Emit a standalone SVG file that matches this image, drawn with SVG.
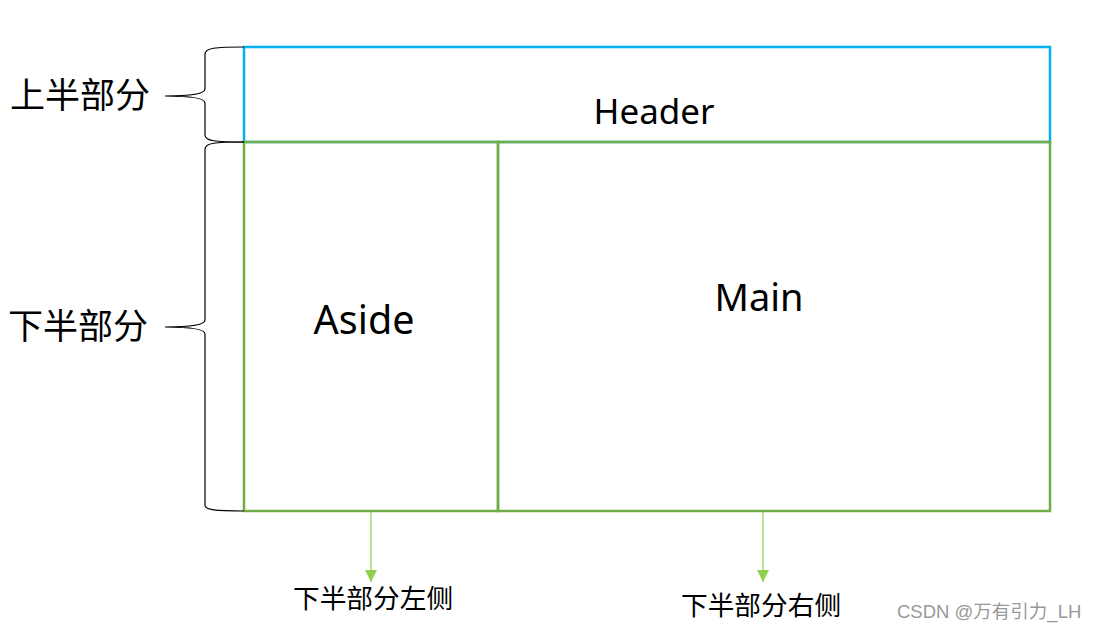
<svg xmlns="http://www.w3.org/2000/svg" width="1096" height="631" viewBox="0 0 1096 631">
<style>
.brace{fill:none;stroke:#000;stroke-width:1.2}
.lbl{font-family:"Noto Sans CJK SC","Noto Sans",sans-serif;fill:#000}
.en{font-family:"Noto Sans","Open Sans",sans-serif;fill:#000}
.conn{stroke:#92D050;stroke-width:1.2;fill:none}
.g{fill:none;stroke:#70AD47;stroke-width:2.5}
</style>
<defs>
<marker id="ah" viewBox="0 0 10 10" refX="10" refY="5" markerWidth="12" markerHeight="12" markerUnits="userSpaceOnUse" orient="auto">
<path d="M0,0 L10,5 L0,10 Z" fill="#92D050"/>
</marker>
</defs>
<rect width="1096" height="631" fill="#fff"/>
<g id="header">
<rect x="244" y="47" width="806" height="95" fill="none" stroke="#00B0F0" stroke-width="2.5"/>
<text class="en" x="654" y="124" font-size="35" text-anchor="middle">Header</text>
</g>
<g id="aside">
<rect class="g" x="244" y="142" width="254" height="369"/>
<text class="en" x="364" y="334" font-size="39.5" text-anchor="middle">Aside</text>
</g>
<g id="main">
<rect class="g" x="498" y="142" width="552" height="369"/>
<text class="en" x="759" y="311" font-size="38" text-anchor="middle">Main</text>
</g>
<g id="brace-top">
<path class="brace" d="M244,47 C215,47 205,48 205,54 L205,89 C205,94 190,96 165,96 C190,96 205,98 205,103 L205,135 C205,141 215,142 244,142"/>
<text class="lbl" x="10" y="108" font-size="35">上半部分</text>
</g>
<g id="brace-bottom">
<path class="brace" d="M244,142 C215,142 205,143 205,149 L205,320 C205,325 190,327 165,327 C190,327 205,329 205,334 L205,505 C205,510 215,511 244,511"/>
<text class="lbl" x="8" y="339" font-size="35">下半部分</text>
</g>
<g id="connectors">
<line class="conn" x1="371" y1="512" x2="371" y2="582" marker-end="url(#ah)"/>
<line class="conn" x1="763" y1="512" x2="763" y2="582" marker-end="url(#ah)"/>
</g>
<g id="label-left">
<text class="lbl" x="293" y="608" font-size="26.7">下半部分左侧</text>
</g>
<g id="label-right">
<text class="lbl" x="681" y="615" font-size="26.7">下半部分右侧</text>
</g>
<text x="897" y="618" font-family="'Liberation Sans','Noto Sans CJK SC',sans-serif" font-size="18.5" fill="#999">CSDN @万有引力_LH</text>
</svg>
